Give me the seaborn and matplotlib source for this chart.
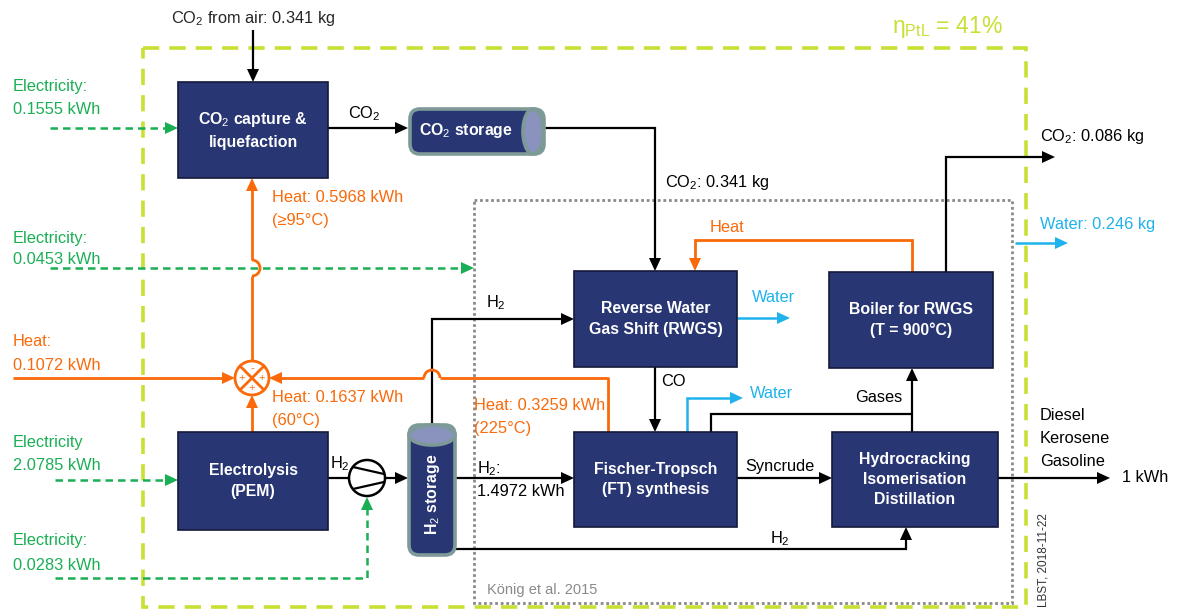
import matplotlib
matplotlib.use("Agg")
import matplotlib.pyplot as plt
import seaborn as sns
import numpy as np
from matplotlib import font_manager
from matplotlib.patches import Rectangle, FancyBboxPatch, Ellipse, Circle, Arc, Polygon

# ---------------- data ----------------
electricity_kwh = [0.1555, 0.0453, 2.0785, 0.0283]
heat_kwh = [0.5968, 0.1072, 0.1637, 0.3259]
heat_temps = ["(≥95°C)", "(60°C)", "(225°C)"]
co2_air_kg = 0.341
co2_feed_kg = 0.341
co2_out_kg = 0.086
water_out_kg = 0.246
h2_ft_kwh = 1.4972
fuel_out_kwh = 1
efficiency_pct = 41
process_labels = ["CO$_2$ capture &\nliquefaction", "Electrolysis\n(PEM)",
                  "Reverse Water\nGas Shift (RWGS)", "Boiler for RWGS\n(T = 900°C)",
                  "Fischer-Tropsch\n(FT) synthesis", "Hydrocracking\nIsomerisation\nDistillation"]
products = ["Diesel", "Kerosene", "Gasoline"]

# ---------------- style ----------------
sns.set_theme(style="white")
names = {f.name for f in font_manager.fontManager.ttflist}
FONT = "Liberation Sans Narrow" if "Liberation Sans Narrow" in names else "Liberation Sans"
plt.rcParams["font.family"] = [FONT, "DejaVu Sans"]
plt.rcParams["mathtext.fontset"] = "custom"
plt.rcParams["mathtext.rm"] = FONT
plt.rcParams["mathtext.it"] = FONT
plt.rcParams["mathtext.bf"] = FONT + ":bold"

NAVY = "#283673"
GREEN = "#1aaf54"
ORANGE = "#fa6a0a"
BLUE = "#1fb2ec"
YG = "#c9df33"
GREY = "#8a8a8a"
CYL_EDGE = "#7e9a98"
CYL_END = "#8a93bd"
FS = 11.8
FSB = 11.4

fig = plt.figure(figsize=(11.87, 6.12), dpi=100)
ax = fig.add_axes([0, 0, 1, 1])
ax.set_xlim(0, 1187)
ax.set_ylim(612, 0)
ax.axis("off")


def path(pts, color="black", lw=1.6, ls="-", head=True, hl=13, hw=12, z=3):
    pts = [np.array(p, float) for p in pts]
    if head:
        tip = pts[-1]
        d = tip - pts[-2]
        d = d / np.linalg.norm(d)
        base = tip - d * hl
        line_pts = pts[:-1] + [base + d * 1.0]
    else:
        line_pts = pts
    xs = [p[0] for p in line_pts]
    ys = [p[1] for p in line_pts]
    ax.plot(xs, ys, color=color, lw=lw, ls=ls, solid_capstyle="butt",
            solid_joinstyle="miter", zorder=z)
    if head:
        perp = np.array([-d[1], d[0]])
        poly = [tip, base + perp * hw / 2, base - perp * hw / 2]
        ax.add_patch(Polygon(poly, closed=True, color=color, zorder=z + 1, lw=0))


def label(x, y, s, color="black", ha="left", size=FS, **kw):
    ax.text(x, y, s, color=color, ha=ha, va="center", fontsize=size, **kw)


# ---------------- boundary boxes ----------------
ax.add_patch(Rectangle((143, 48), 1026 - 143, 607 - 48, fill=False, ec=YG, lw=2.6,
                       ls=(0, (4.5, 2.8)), zorder=1))
ax.add_patch(Rectangle((474, 200), 1012 - 474, 603 - 200, fill=False, ec=GREY, lw=2.0,
                       ls=(0, (1, 1)), zorder=1))
ax.text(892, 27, "η$_{\\mathrm{PtL}}$ = " + f"{efficiency_pct}%", color=YG, fontsize=16.5,
        ha="left", va="center")
label(487, 590, "König et al. 2015", color=GREY, size=10.5)
ax.text(1043, 560, "LBST, 2018-11-22", rotation=90, ha="center", va="center",
        fontsize=8.5, color="#333333")

# ---------------- process boxes ----------------
boxes = [(178, 82, 150, 96), (178, 432, 150, 98), (574, 271, 163, 96),
         (829, 272, 164, 96), (574, 432, 163, 95), (832, 432, 166, 95)]
for (x, y, w, h), txt in zip(boxes, process_labels):
    ax.add_patch(Rectangle((x, y), w, h, fc=NAVY, ec="#15193a", lw=1.2, zorder=5))
    ax.text(x + w / 2, y + h / 2, txt, color="white", fontsize=FSB, fontweight="bold",
            ha="center", va="center", linespacing=1.45, zorder=6)

# CO2 storage cylinder (horizontal)
ax.add_patch(FancyBboxPatch((410, 109), 134, 45, boxstyle="round,pad=0,rounding_size=10",
                            fc=NAVY, ec=CYL_EDGE, lw=2.6, zorder=5))
ax.add_patch(Ellipse((533, 131.5), 20, 45, fc=CYL_END, ec=CYL_EDGE, lw=2.6, zorder=6))
ax.text(466, 131, "CO$_2$ storage", color="white", fontsize=FSB, fontweight="bold",
        ha="center", va="center", zorder=7)

# H2 storage cylinder (vertical)
ax.add_patch(FancyBboxPatch((409, 425), 46, 130, boxstyle="round,pad=0,rounding_size=10",
                            fc=NAVY, ec=CYL_EDGE, lw=2.6, zorder=5))
ax.add_patch(Ellipse((432, 435), 46, 20, fc=CYL_END, ec=CYL_EDGE, lw=2.6, zorder=6))
ax.text(432, 494, "H$_2$ storage", color="white", fontsize=FSB, fontweight="bold",
        rotation=90, ha="center", va="center", zorder=7)

# heat mixer
mx, my, mr = 252, 378, 17
ax.add_patch(Circle((mx, my), mr, fc="white", ec=ORANGE, lw=2, zorder=6))
k = mr * np.cos(np.pi / 4)
ax.plot([mx - k, mx + k], [my - k, my + k], color=ORANGE, lw=2, zorder=7)
ax.plot([mx - k, mx + k], [my + k, my - k], color=ORANGE, lw=2, zorder=7)
for (dx, dy, s) in [(0, -10, "-"), (-10, 0, "+"), (10, 0, "+"), (0, 10, "+")]:
    ax.text(mx + dx, my + dy, s, color=ORANGE, fontsize=8,
            ha="center", va="center", zorder=8)

# compressor
cx, cy, cr = 367, 478, 18
ax.add_patch(Circle((cx, cy), cr, fc="white", ec="black", lw=1.8, zorder=6))
ax.plot([cx - 14, cx + 17], [cy - 11, cy - 4], color="black", lw=1.6, zorder=7)
ax.plot([cx - 14, cx + 17], [cy + 11, cy + 4], color="black", lw=1.6, zorder=7)

# ---------------- black flows ----------------
ax.text(253, 18, "CO$_2$ from air: " + f"{co2_air_kg:.3f} kg", ha="center", va="center",
        fontsize=FS)
path([(253, 30), (253, 82)])
path([(328, 128), (408, 128)])
label(364, 114, "CO$_2$", ha="center")
path([(545, 128), (655, 128), (655, 271)])
label(665, 182, "CO$_2$: " + f"{co2_feed_kg:.3f} kg")
path([(328, 478), (349, 478)], head=False)
label(340, 464, "H$_2$", ha="center")
path([(385, 478), (408, 478)])
path([(432, 425), (432, 319), (574, 319)])
label(486, 303, "H$_2$")
path([(456, 478), (574, 478)])
label(477, 469, "H$_2$:")
label(477, 491, f"{h2_ft_kwh:.4f} kWh")
path([(432, 555), (432, 549), (906, 549), (906, 527)])
label(770, 539, "H$_2$")
path([(655, 367), (655, 432)])
label(661, 381, "CO")
path([(711, 432), (711, 414), (912, 414)], head=False)
path([(912, 432), (912, 368)])
label(855, 397, "Gases")
path([(737, 478), (832, 478)])
label(745, 466, "Syncrude")
path([(998, 478), (1110, 478)])
label(1122, 478, f"{fuel_out_kwh} kWh")
for i, p in enumerate(products):
    label(1040, 416 + 22.5 * i, p)
path([(946, 272), (946, 157), (1055, 157)])
label(1040, 137, "CO$_2$: " + f"{co2_out_kg:.3f} kg")

# ---------------- blue water flows ----------------
path([(737, 318), (790, 318)], color=BLUE, lw=1.8)
label(752, 297, "Water", color=BLUE)
path([(687, 432), (687, 398), (743, 398)], color=BLUE, lw=1.8)
label(750, 393, "Water", color=BLUE)
path([(1015, 243), (1068, 243)], color=BLUE, lw=1.8)
label(1040, 225, "Water: " + f"{water_out_kg:.3f} kg", color=BLUE)

# ---------------- green electricity flows ----------------
gls = (0, (3, 2))
path([(50, 128), (178, 128)], color=GREEN, lw=1.8, ls=gls)
label(13, 87, "Electricity:", color=GREEN)
label(13, 110, f"{electricity_kwh[0]:.4f} kWh", color=GREEN)
path([(50, 268), (474, 268)], color=GREEN, lw=1.8, ls=gls)
label(13, 238, "Electricity:", color=GREEN)
label(13, 260, f"{electricity_kwh[1]:.4f} kWh", color=GREEN)
path([(55, 480), (178, 480)], color=GREEN, lw=1.8, ls=gls)
label(13, 443, "Electricity", color=GREEN)
label(13, 466, f"{electricity_kwh[2]:.4f} kWh", color=GREEN)
path([(55, 578), (367, 578), (367, 497)], color=GREEN, lw=1.8, ls=gls)
label(13, 541, "Electricity:", color=GREEN)
label(13, 565, f"{electricity_kwh[3]:.4f} kWh", color=GREEN)

# ---------------- orange heat flows ----------------
OLW = 2.0
# to CO2 capture, with hop over electricity line
ax.plot([252, 252], [361, 276], color=ORANGE, lw=OLW, solid_capstyle="butt", zorder=3)
ax.add_patch(Arc((252, 268), 16, 16, theta1=-90, theta2=90, color=ORANGE, lw=OLW, zorder=3))
path([(252, 260), (252, 178)], color=ORANGE, lw=OLW)
label(272, 198, "Heat: " + f"{heat_kwh[0]:.4f} kWh", color=ORANGE)
label(272, 221, heat_temps[0], color=ORANGE)
# external heat
path([(13, 378), (235, 378)], color=ORANGE, lw=OLW)
label(13, 342, "Heat:", color=ORANGE)
label(13, 365, f"{heat_kwh[1]:.4f} kWh", color=ORANGE)
# electrolysis heat
path([(252, 432), (252, 395)], color=ORANGE, lw=OLW)
label(272, 398, "Heat: " + f"{heat_kwh[2]:.4f} kWh", color=ORANGE)
label(272, 421, heat_temps[1], color=ORANGE)
# FT heat, with hop over H2 line
ax.plot([608, 608, 440], [432, 378, 378], color=ORANGE, lw=OLW, solid_capstyle="butt",
        zorder=3)
ax.add_patch(Arc((432, 378), 16, 16, theta1=180, theta2=360, color=ORANGE, lw=OLW, zorder=3))
path([(424, 378), (269, 378)], color=ORANGE, lw=OLW)
label(474, 406, "Heat: " + f"{heat_kwh[3]:.4f} kWh", color=ORANGE)
label(474, 428, heat_temps[2], color=ORANGE)
# boiler heat to RWGS
path([(912, 272), (912, 240), (695, 240), (695, 271)], color=ORANGE, lw=OLW)
label(710, 228, "Heat", color=ORANGE)

fig.savefig("out.png", dpi=100, facecolor="white")
